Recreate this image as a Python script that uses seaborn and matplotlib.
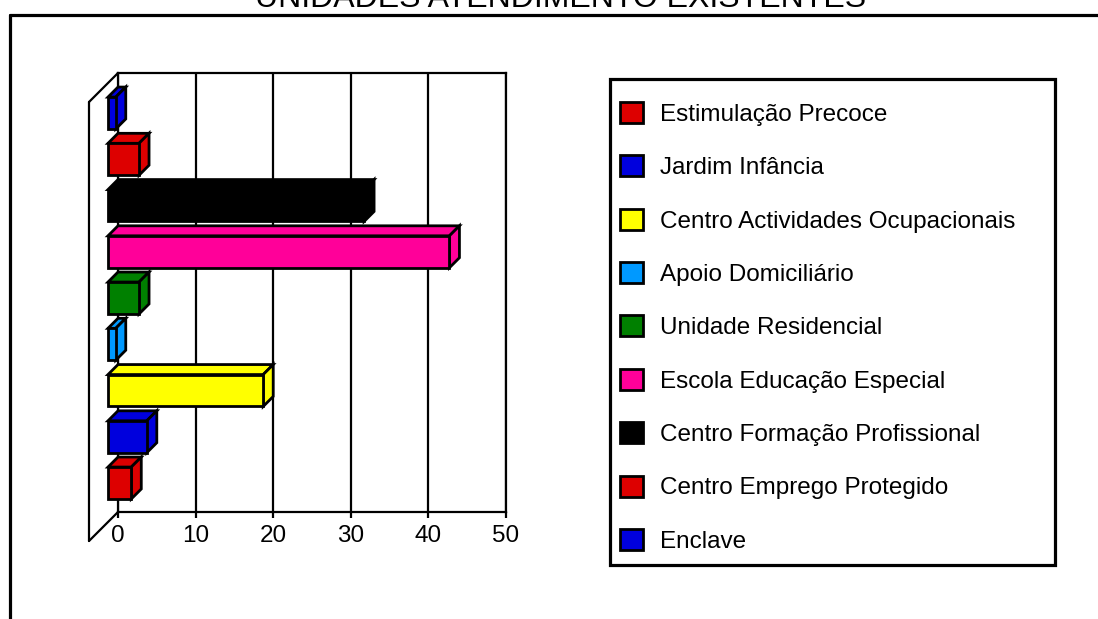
import numpy as np
import pandas as pd
import matplotlib
matplotlib.use("Agg")
import matplotlib.pyplot as plt
import seaborn as sns
from matplotlib.patches import Polygon, Rectangle, Patch
from matplotlib.lines import Line2D

# dados (de cima para baixo)
unidades = ["Enclave", "Centro Emprego Protegido", "Centro Formação Profissional",
            "Escola Educação Especial", "Unidade Residencial", "Apoio Domiciliário",
            "Centro Actividades Ocupacionais", "Jardim Infância", "Estimulação Precoce"]
valores = [1, 4, 33, 44, 4, 1, 20, 5, 3]
cores = ["#0000DD", "#DD0000", "#000000", "#FF0099", "#008000", "#0099FF",
         "#FFFF00", "#0000DD", "#DD0000"]
ticks_x = [0, 10, 20, 30, 40, 50]
titulo = "UNIDADES ATENDIMENTO EXISTENTES"

sns.set_style("white")
plt.rcParams["font.family"] = ["Liberation Sans", "DejaVu Sans"]
plt.rcParams["text.color"] = "black"

W, H = 1098, 619
fig = plt.figure(figsize=(W / 100, H / 100), dpi=100)

def fx(px):
    return px / W

def fy(py):
    return 1 - py / H

# parede do fundo do gráfico
ax = fig.add_axes([fx(118), fy(512), fx(506) - fx(118), fy(73) - fy(512)])

df = pd.DataFrame({"unidade": unidades, "valor": valores})
sns.barplot(data=df, x="valor", y="unidade", hue="unidade", order=unidades,
            palette=dict(zip(unidades, cores)), saturation=1, width=0.69,
            edgecolor="black", linewidth=2, legend=False, ax=ax)

ax.set_xlim(0, 50)
ax.set_ylim(8.843, -0.649)
ax.set_xticks(ticks_x)
ax.set_yticks([])
ax.set_xlabel("")
ax.set_ylabel("")
ax.grid(axis="x", color="black", linewidth=1.6)
ax.set_axisbelow(True)
for s in ax.spines.values():
    s.set_color("black")
    s.set_linewidth(1.6)
ax.tick_params(axis="x", bottom=True, length=4, width=1.6, color="black",
               pad=5, labelsize=17.5, labelcolor="black")

fig.canvas.draw()
inv = ax.transData.inverted()
origem = ax.transData.transform((0, 0))

def desloc(px):
    p = inv.transform(origem + np.array([-px, -px]))
    return p[0], p[1]

dx, dy = desloc(10)   # profundidade das barras
wx, wy = desloc(29)   # profundidade da parede lateral

# barras em 3D: face da frente deslocada, faces de cima e lateral
for p in ax.patches:
    x0, y0 = p.get_x(), p.get_y()
    w, h = p.get_width(), p.get_height()
    cor = p.get_facecolor()
    x1, y1 = x0 + w, y0 + h
    topo = Polygon([(x0 + dx, y0 + dy), (x1 + dx, y0 + dy), (x1, y0), (x0, y0)],
                   closed=True, facecolor=cor, edgecolor="black", linewidth=2,
                   joinstyle="miter", clip_on=False, zorder=3)
    lado = Polygon([(x1 + dx, y0 + dy), (x1, y0), (x1, y1), (x1 + dx, y1 + dy)],
                   closed=True, facecolor=cor, edgecolor="black", linewidth=2,
                   joinstyle="miter", clip_on=False, zorder=3)
    ax.add_patch(topo)
    ax.add_patch(lado)
    p.set_x(x0 + dx)
    p.set_y(y0 + dy)
    p.set_clip_on(False)
    p.set_zorder(4)
    p.set_joinstyle("miter")

# parede lateral esquerda
yt, yb = ax.get_ylim()[1], ax.get_ylim()[0]
for xs, ys in [([0, wx], [yt, yt + wy]), ([wx, wx], [yt + wy, yb + wy]),
               ([wx, 0], [yb + wy, yb])]:
    ax.add_line(Line2D(xs, ys, color="black", linewidth=1.6, clip_on=False))

# moldura exterior
fig.add_artist(Line2D([fx(10), 1], [fy(15), fy(15)], color="black", linewidth=2.3))
fig.add_artist(Line2D([fx(10), fx(10)], [fy(15), 0], color="black", linewidth=2.3))

fig.text(fx(561), fy(7), titulo, ha="center", va="baseline", fontsize=23,
         color="black")

# legenda
fig.add_artist(Rectangle((fx(610), fy(565)), fx(1055) - fx(610), fy(79) - fy(565),
                         fill=False, edgecolor="black", linewidth=2.3,
                         transform=fig.transFigure))
handles = [Patch(facecolor=c, edgecolor="black", linewidth=2) for c in cores[::-1]]
fig.legend(handles, unidades[::-1], loc="upper left",
           bbox_to_anchor=(fx(620), fy(102)), frameon=False, fontsize=17.5,
           labelcolor="black", handlelength=0.95, handleheight=0.95,
           handletextpad=0.7, labelspacing=1.215, borderpad=0, borderaxespad=0)

fig.savefig("out.png", dpi=100)
